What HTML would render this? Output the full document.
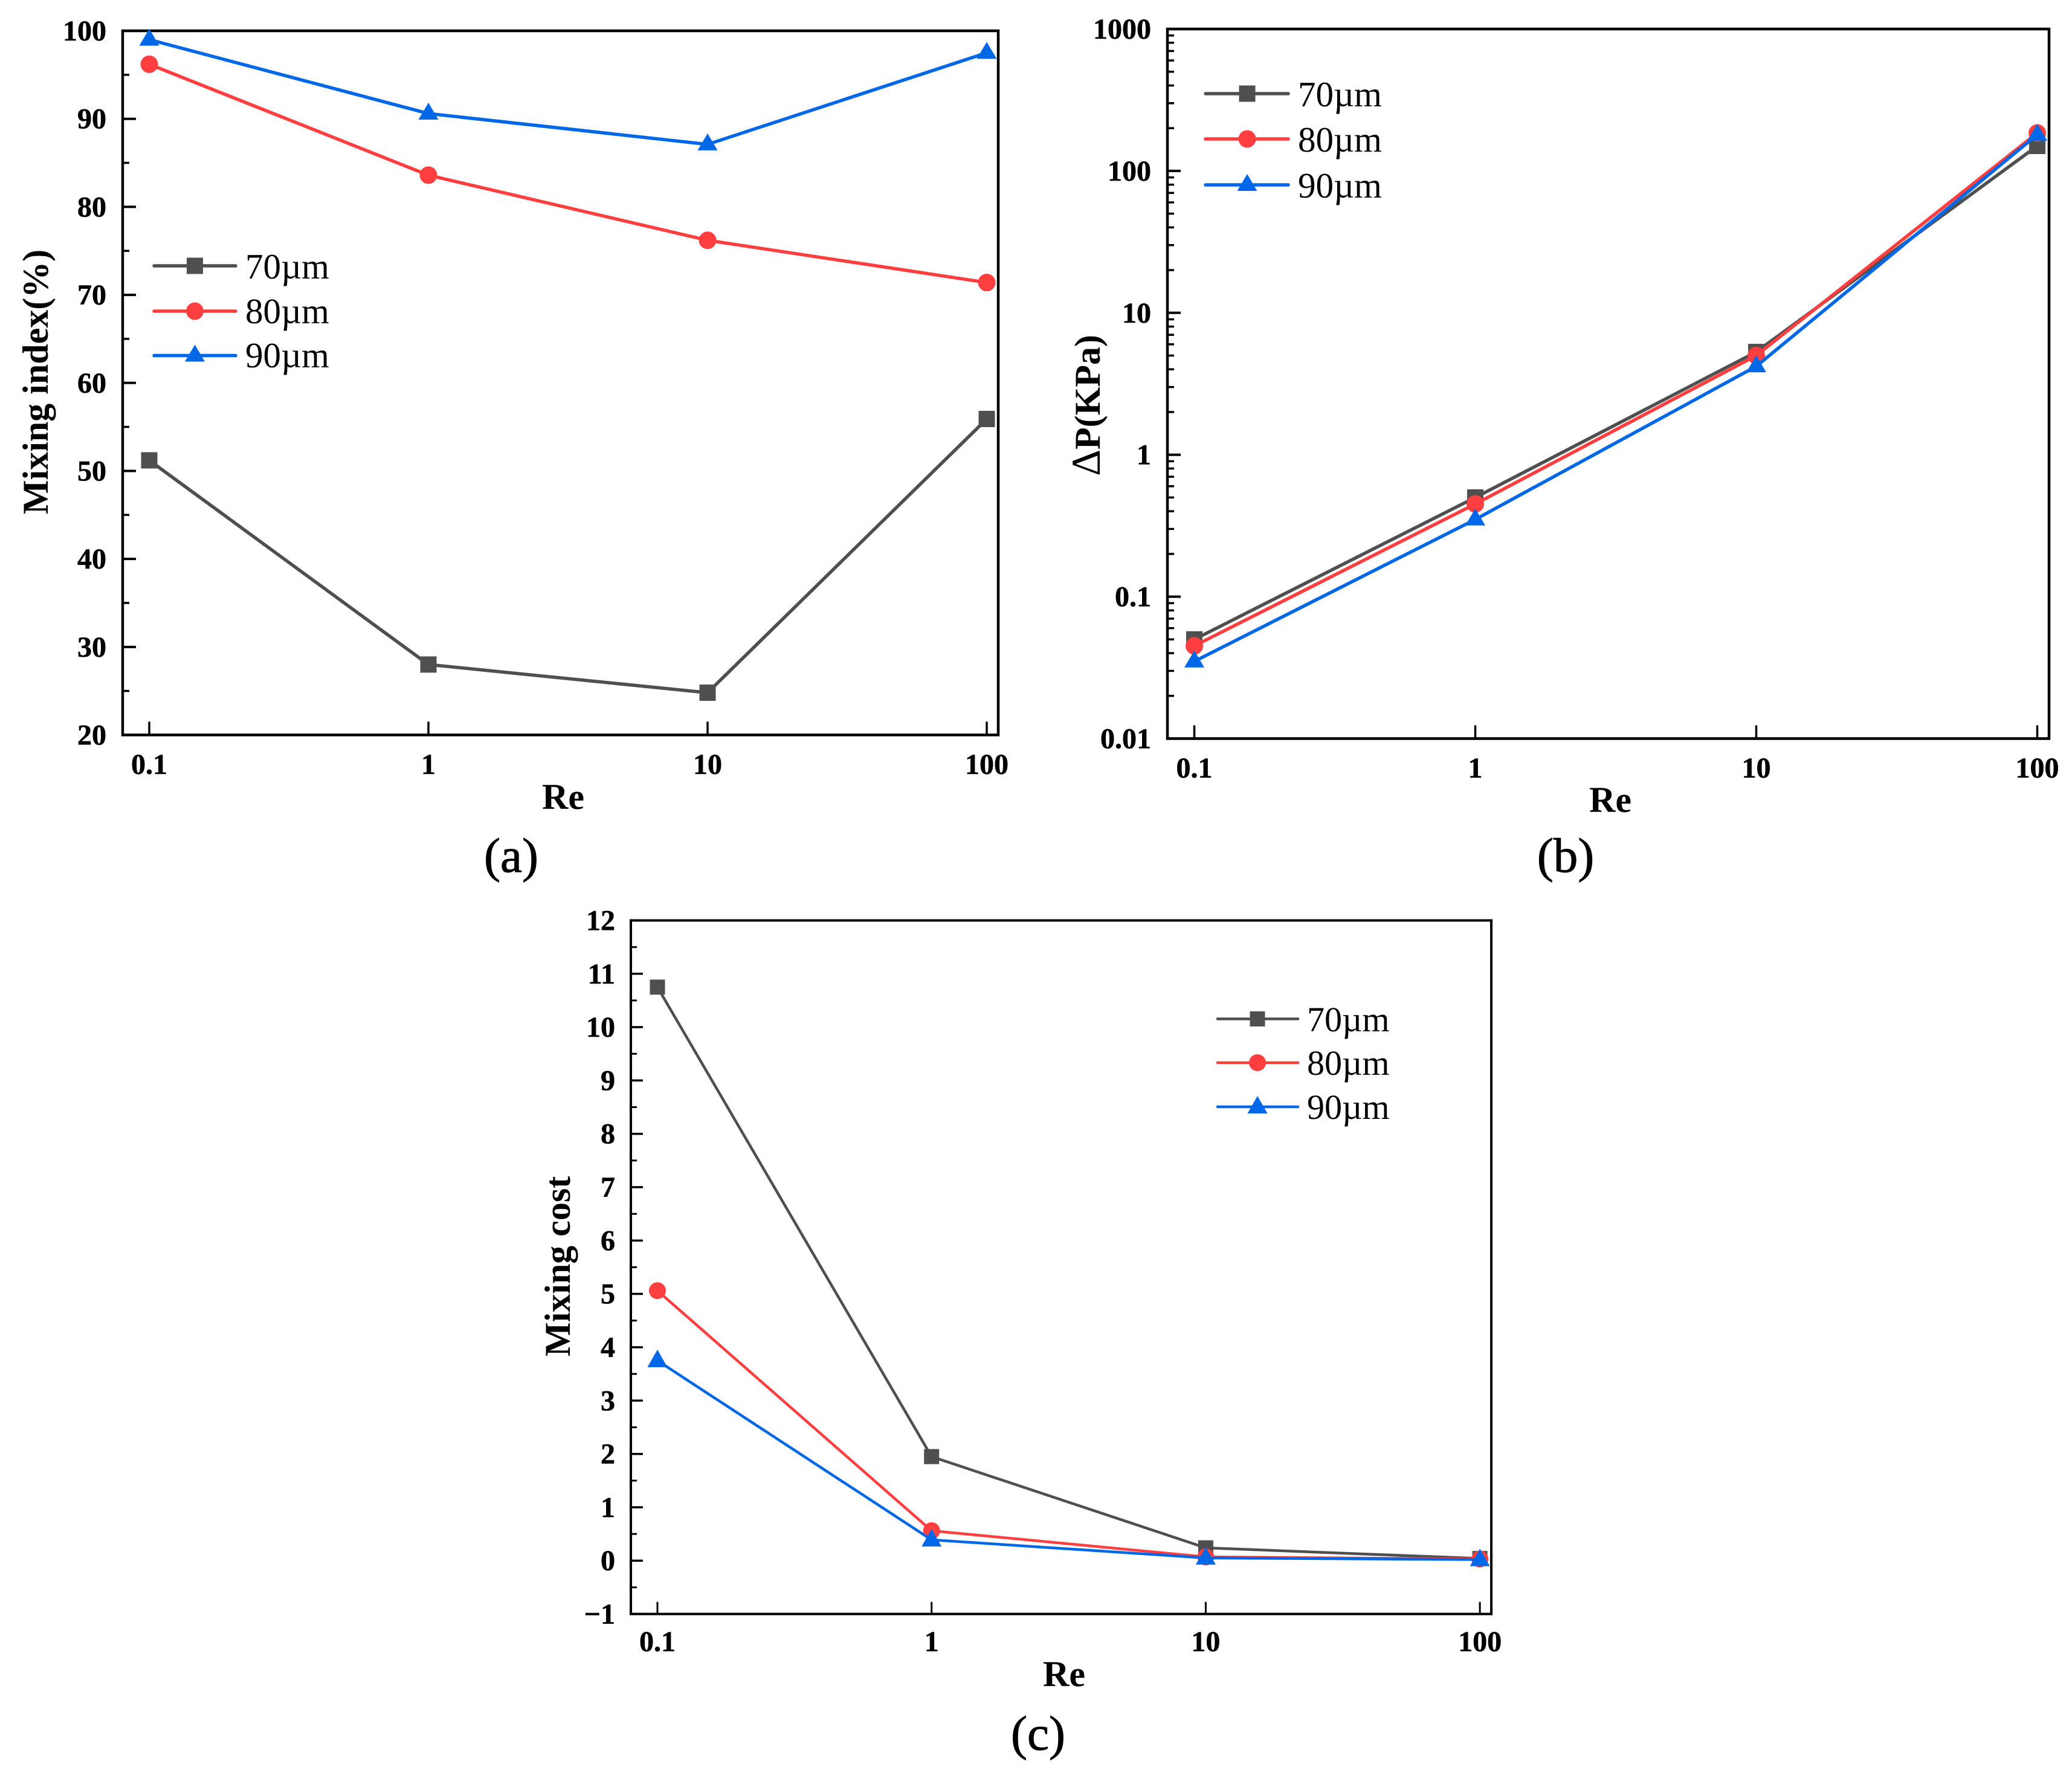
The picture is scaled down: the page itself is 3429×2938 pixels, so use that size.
<!DOCTYPE html>
<html lang="en">
<head>
<meta charset="utf-8">
<title>Mixing performance versus Reynolds number</title>
<style>
  html, body { margin: 0; padding: 0; background: #fff; }
  svg { display: block; }
  text { font-family: "Liberation Serif", "DejaVu Serif", serif; fill: #000; }
  .tick { font-weight: bold; font-size: 48px; stroke: #000; stroke-width: 0.6px; }
  .title { font-weight: bold; font-size: 60px; }
  .re { font-weight: bold; font-size: 60px; text-anchor: middle; }
  .legend { font-size: 60px; }
  .cap { font-size: 81px; text-anchor: middle; stroke: #000; stroke-width: 1px; }
</style>
</head>
<body>
<svg id="figure" xmlns="http://www.w3.org/2000/svg" width="3429" height="2938" viewBox="0 0 3429 2938">
  <rect x="0" y="0" width="3429" height="2938" fill="#fff"/>
  <text class="title" transform="translate(79 632) rotate(-90)" text-anchor="middle">Mixing index(%)</text>
  <text class="re" x="932" y="1339">Re</text>
  <text class="cap" x="846" y="1443">(a)</text>
  <text class="title" transform="translate(1820 671) rotate(-90)" text-anchor="middle"><tspan font-weight="normal" font-size="68">Δ</tspan>P(KPa)</text>
  <text class="re" x="2665" y="1344">Re</text>
  <text class="cap" x="2591" y="1443">(b)</text>
  <text class="title" transform="translate(943 2096) rotate(-90)" text-anchor="middle">Mixing cost</text>
  <text class="re" x="1761" y="2791">Re</text>
  <text class="cap" x="1718" y="2896">(c)</text>
</svg>
<script>
// ---- Data ----
const reCategories = [0.1, 1, 10, 100];
const xTickLabels = ['0.1', '1', '10', '100'];
const seriesNames = ['70µm', '80µm', '90µm'];

const mixingIndex70 = [51.2, 28.0, 24.8, 55.9];
const mixingIndex80 = [96.2, 83.6, 76.2, 71.4];
const mixingIndex90 = [99.0, 90.6, 87.1, 97.5];
const mixingIndexTicks = [20, 30, 40, 50, 60, 70, 80, 90, 100];
const mixingIndexMinorTicks = [25, 35, 45, 55, 65, 75, 85, 95];

const pressure70 = [0.05, 0.5, 5.3, 150];
const pressure80 = [0.045, 0.45, 5.0, 185];
const pressure90 = [0.035, 0.35, 4.2, 180];
const pressureTicks = [0.01, 0.1, 1, 10, 100, 1000];
const pressureTickLabels = ['0.01', '0.1', '1', '10', '100', '1000'];
const pressureMinorMultipliers = [2, 3, 4, 5, 6, 7, 8, 9];

const mixingCost70 = [10.75, 1.95, 0.24, 0.04];
const mixingCost80 = [5.06, 0.56, 0.07, 0.03];
const mixingCost90 = [3.75, 0.39, 0.05, 0.02];
const mixingCostTicks = [-1, 0, 1, 2, 3, 4, 5, 6, 7, 8, 9, 10, 11, 12];
const mixingCostMinorTicks = [-0.5, 0.5, 1.5, 2.5, 3.5, 4.5, 5.5, 6.5, 7.5, 8.5, 9.5, 10.5, 11.5];

// ---- Drawing ----
const svg = document.getElementById('figure');
const NS = 'http://www.w3.org/2000/svg';
const seriesColors = ['#4f4f4f', '#ff3f3f', '#0068e6'];

function make(tag, parent) {
  const el = document.createElementNS(NS, tag);
  parent.appendChild(el);
  return el;
}

function line(parent, x1, y1, x2, y2, color, width) {
  const el = make('line', parent);
  el.setAttribute('x1', x1);
  el.setAttribute('y1', y1);
  el.setAttribute('x2', x2);
  el.setAttribute('y2', y2);
  el.setAttribute('stroke', color);
  el.setAttribute('stroke-width', width);
  return el;
}

function marker(parent, kind, cx, cy, m) {
  let el;
  if (kind === 0) {
    el = make('rect', parent);
    el.setAttribute('x', cx - m.sq);
    el.setAttribute('y', cy - m.sq);
    el.setAttribute('width', m.sq * 2);
    el.setAttribute('height', m.sq * 2);
  } else if (kind === 1) {
    el = make('circle', parent);
    el.setAttribute('cx', cx);
    el.setAttribute('cy', cy);
    el.setAttribute('r', m.r);
  } else {
    el = make('polygon', parent);
    el.setAttribute('points', cx + ',' + (cy - m.up) + ' ' + (cx + m.tw) + ',' + (cy + m.dn) + ' ' + (cx - m.tw) + ',' + (cy + m.dn));
  }
  el.setAttribute('fill', seriesColors[kind]);
  return el;
}

function drawPanel(p) {
  const g = make('g', svg);
  
  

  const xScale = v => p.x0 + p.decade * Math.log10(v / reCategories[0]);
  const yScale = p.yScale;

  // minor y ticks
  p.minor.forEach(v => {
    const y = yScale(v);
    const t = line(g, p.left, y, p.left + p.minorLen, y, '#000', p.tickW);
    
    
  });

  // major y ticks + labels
  p.yTicks.forEach((v, i) => {
    const y = yScale(v);
    const t = line(g, p.left, y, p.left + p.majorLen, y, '#000', p.tickW + 0.5);
    
    
    const label = make('text', g);
    label.setAttribute('class', 'tick');
    label.setAttribute('x', p.yLabelX);
    label.setAttribute('y', y + 16);
    label.setAttribute('text-anchor', 'end');
    
    
    label.textContent = p.yLabels[i];
  });

  // x ticks + labels
  reCategories.forEach((v, i) => {
    const x = xScale(v);
    const t = line(g, x, p.bottom, x, p.bottom - p.majorLen, '#000', p.tickW);
    
    
    const label = make('text', g);
    label.setAttribute('class', 'tick');
    label.setAttribute('x', x);
    label.setAttribute('y', p.xLabelY);
    label.setAttribute('text-anchor', 'middle');
    
    
    label.textContent = xTickLabels[i];
  });

  // frame
  const frame = make('rect', g);
  frame.setAttribute('x', p.left);
  frame.setAttribute('y', p.top);
  frame.setAttribute('width', p.right - p.left);
  frame.setAttribute('height', p.bottom - p.top);
  frame.setAttribute('fill', 'none');
  frame.setAttribute('stroke', '#000');
  frame.setAttribute('stroke-width', p.frameW);
  
  

  // series lines
  p.series.forEach((vals, s) => {
    const path = make('polyline', g);
    path.setAttribute('points', vals.map((v, i) => xScale(reCategories[i]) + ',' + yScale(v)).join(' '));
    path.setAttribute('fill', 'none');
    path.setAttribute('stroke', seriesColors[s]);
    path.setAttribute('stroke-width', p.lineW);
    path.setAttribute('stroke-linejoin', 'round');
    
    
    vals.forEach((v, i) => {
      const mk = marker(g, s, xScale(reCategories[i]), yScale(v), p.m);
      
      
    });
  });

  // legend
  seriesNames.forEach((name, s) => {
    const y = p.legendY[s];
    const l = line(g, p.legendX1 + 2, y, p.legendX2 - 2, y, seriesColors[s], p.lineW);
    l.setAttribute('stroke-linecap', 'round');
    
    
    const mk = marker(g, s, p.legendMarkerX, y, p.m);
    
    
    const t = make('text', g);
    t.setAttribute('class', 'legend');
    t.setAttribute('x', p.legendTextX);
    t.setAttribute('y', p.legendBase[s]);
    t.style.fontSize = p.legendFont + 'px';
    
    
    t.textContent = name;
  });
}

const linear = (top, topV, bottom, bottomV) => v => top + (topV - v) * (bottom - top) / (topV - bottomV);
const logarithmic = (top, topV, bottom, bottomV) => v => top + (Math.log10(topV) - Math.log10(v)) * (bottom - top) / (Math.log10(topV) - Math.log10(bottomV));

const pressureMinorTicks = [];
pressureTicks.slice(0, -1).forEach(base => {
  pressureMinorMultipliers.forEach(k => pressureMinorTicks.push(base * k));
});

drawPanel({
  id: 'panel-a', left: 203, right: 1652, top: 51, bottom: 1216.5,
  x0: 247, decade: 462,
  yScale: linear(51, 100, 1216.5, 20),
  yTicks: mixingIndexTicks, yLabels: mixingIndexTicks.map(String), minor: mixingIndexMinorTicks,
  series: [mixingIndex70, mixingIndex80, mixingIndex90],
  yLabelX: 176, xLabelY: 1281, majorLen: 22, minorLen: 11, tickW: 3.5, frameW: 4.5, lineW: 5.5,
  m: { sq: 13.5, r: 14.5, up: 18, dn: 10, tw: 16.5 },
  legendX1: 253, legendX2: 392, legendMarkerX: 322.5, legendY: [440, 515, 588.5],
  legendTextX: 406, legendBase: [461, 535, 608], legendFont: 59
});

drawPanel({
  id: 'panel-b', left: 1932, right: 3391, top: 48, bottom: 1222.5,
  x0: 1976.5, decade: 465,
  yScale: logarithmic(48, 1000, 1222.5, 0.01),
  yTicks: pressureTicks, yLabels: pressureTickLabels, minor: pressureMinorTicks,
  series: [pressure70, pressure80, pressure90],
  yLabelX: 1905, xLabelY: 1287, majorLen: 22, minorLen: 11, tickW: 3.5, frameW: 4.5, lineW: 5.5,
  m: { sq: 13.5, r: 14.5, up: 18, dn: 10, tw: 16.5 },
  legendX1: 1993, legendX2: 2134, legendMarkerX: 2064, legendY: [155, 230, 306],
  legendTextX: 2148, legendBase: [176, 251, 327], legendFont: 59
});

drawPanel({
  id: 'panel-c', left: 1044, right: 2468, top: 1523.5, bottom: 2671.5,
  x0: 1088, decade: 453.7,
  yScale: linear(1523.5, 12, 2671.5, -1),
  yTicks: mixingCostTicks, yLabels: mixingCostTicks.map(v => v < 0 ? '−' + (-v) : String(v)), minor: mixingCostMinorTicks,
  series: [mixingCost70, mixingCost80, mixingCost90],
  yLabelX: 1018, xLabelY: 2733, majorLen: 20, minorLen: 10, tickW: 3, frameW: 4, lineW: 4.5,
  m: { sq: 12.5, r: 14, up: 18, dn: 11, tw: 16.5 },
  legendX1: 2013, legendX2: 2150, legendMarkerX: 2081, legendY: [1686.5, 1759, 1832],
  legendTextX: 2163, legendBase: [1707, 1779, 1852], legendFont: 58
});
</script>
</body>
</html>
